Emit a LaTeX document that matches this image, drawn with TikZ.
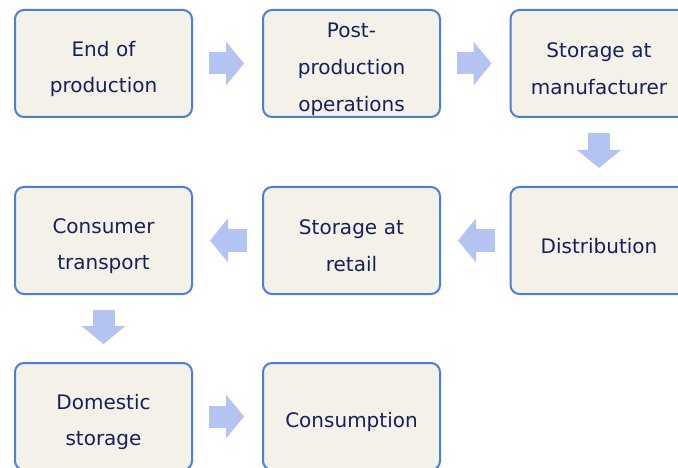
\documentclass[tikz,border=0pt]{standalone}
\usepackage{fontspec}
\setmainfont{DejaVu Sans}
\usetikzlibrary{arrows.meta, calc}
\definecolor{boxline}{HTML}{4C7EDB}
\definecolor{boxfill}{HTML}{F4F1E8}
\definecolor{boxtext}{HTML}{17205A}
\definecolor{flowblue}{HTML}{B3C3F2}

\begin{document}
\begin{tikzpicture}[x=1pt, y=-1pt,
    stage/.style={draw=boxline, line width=2pt, fill=boxfill, rounded corners=9pt,
      minimum width=177pt, minimum height=107pt, inner sep=0pt,
      text width=170pt, align=center, text=boxtext,
      font=\fontsize{20}{36.8}\selectfont,
      execute at begin node={\rule{0pt}{26pt}}},
    flow/.style={draw=flowblue, line width=22pt,
      -{Triangle[length=18pt 0 0, width=43pt 0 0]}}]
       \useasboundingbox (0,0) rectangle (678,468);
       \clip (0,0) rectangle (678,468);
       \node[stage] (end) at (103.5,63.5) {End of\\production};
       \node[stage] (post) at (351.5,63.5) {Post-\\production\\operations};
       \node[stage] (manu) at (599,63.5) {Storage at\\manufacturer};
       \node[stage] (dist) at (599,240.5) {Distribution};
       \node[stage] (retail) at (351.5,240.5) {Storage at\\retail};
       \node[stage] (trans) at (103.5,240.5) {Consumer\\transport};
       \node[stage] (home) at (103.5,416.5) {Domestic\\storage};
       \node[stage] (eat) at (351.5,416.5) {Consumption};
       \draw[flow] ($(end.east)+(16,0)$) -- ($(post.west)+(-18,0)$);
       \draw[flow] ($(post.east)+(16,0)$) -- ($(manu.west)+(-18,0)$);
       \draw[flow] ($(manu.south)+(0,15)$) -- ($(dist.north)+(0,-18)$);
       \draw[flow] ($(dist.west)+(-15,0)$) -- ($(retail.east)+(17,0)$);
       \draw[flow] ($(retail.west)+(-15,0)$) -- ($(trans.east)+(17,0)$);
       \draw[flow] ($(trans.south)+(0,15)$) -- ($(home.north)+(0,-18)$);
       \draw[flow] ($(home.east)+(16,0)$) -- ($(eat.west)+(-18,0)$);
\end{tikzpicture}
\end{document}
